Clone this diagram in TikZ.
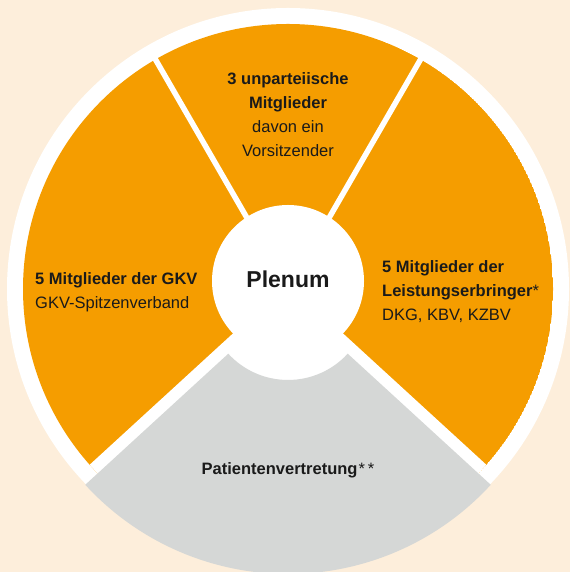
\documentclass[tikz,border=0pt]{standalone}
\usepackage{fontspec}
\setmainfont{Liberation Sans}
\usetikzlibrary{calc}
\definecolor{cream}{HTML}{FDEEDB}
\definecolor{gbaorange}{HTML}{F59D00}
\definecolor{gbagray}{HTML}{D5D7D6}
\definecolor{ink}{HTML}{1A1A1A}
\begin{document}
\begin{tikzpicture}[x=1pt,y=1pt,
  lbl/.style={inner sep=0pt, text=ink, font=\fontsize{16.5}{24}\selectfont},
  sepline/.style={line width=5.5pt, white}]
\useasboundingbox (0,0) rectangle (570,572);
\clip (0,0) rectangle (570,572);
\fill[cream] (0,0) rectangle (570,572);
\coordinate (C) at (288,283);
\coordinate (A) at (288,289);
\coordinate (G) at (288,273);
\coordinate (P) at (288,291);
% outer white ring
\fill[white] (C) circle[radius=281];
% orange sectors
\begin{scope}
  \clip (C) circle[radius=265];
  \fill[gbaorange] (C) circle[radius=265];
  \fill[white] (A) -- ($(A)+(222.5:420)$) -- ($(A)+(317.5:420)$) -- cycle;
\end{scope}
\draw[sepline] (C) -- ($(C)+(60:276)$);
\draw[sepline] (C) -- ($(C)+(120:276)$);
% grey sector
\fill[gbagray] ($(G)+(222.5:275)$) arc[start angle=222.5,end angle=317.5,radius=275]
  -- ($(G)+(317.5:81)$) arc[start angle=317.5,end angle=222.5,radius=81] -- cycle;
% centre
\node[circle, fill=white, minimum size=152pt, inner sep=0pt] (centre) at (P) {};
\node[lbl, font=\fontsize{23}{28}\selectfont\bfseries, anchor=base] (plenum) at (288,284) {Plenum};
% labels
\node[lbl, align=center, anchor=north] (top) at (288,504.8)
  {\strut\textbf{3 unparteiische}\\\textbf{Mitglieder}\\davon ein\\Vorsitzender};
\node[lbl, align=left, anchor=north west] (left) at (35,304.5)
  {\strut\textbf{5 Mitglieder der GKV}\\GKV-Spitzenverband};
\node[lbl, align=left, anchor=north west] (right) at (382,316.5)
  {\strut\textbf{5 Mitglieder der}\\\textbf{Leistungserbringer}*\\DKG, KBV, KZBV};
\node[lbl, anchor=base] (patients) at (288,97.5)
  {\textbf{Patientenvertretung}\kern1pt*\kern3pt*};
\end{tikzpicture}
\end{document}
